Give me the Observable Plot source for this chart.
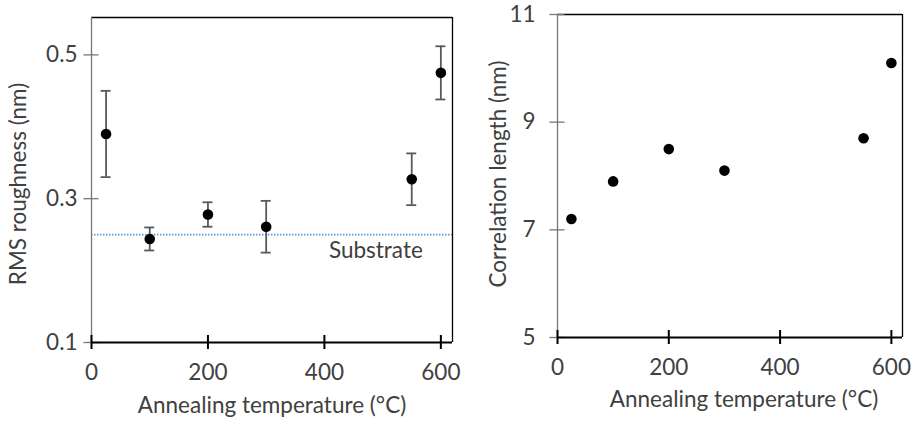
<!DOCTYPE html>
<html>
<head>
<meta charset="utf-8">
<script src="https://cdn.jsdelivr.net/npm/d3@7"></script>
<script src="https://cdn.jsdelivr.net/npm/@observablehq/plot@0.6"></script>
<style>
  body { margin: 0; background: #fff; }
  #wrap { position: relative; width: 911px; height: 422px; overflow: hidden; }
  #left, #right { position: absolute; top: 0; }
  #left { left: 0; }
  #right { left: 460px; }
</style>
</head>
<body>
<div id="wrap"><div id="left"></div><div id="right"></div></div>
<script>
// ---- data ----
const temperature = [25, 100, 200, 300, 550, 600];
const rmsRoughness = [0.39, 0.244, 0.278, 0.261, 0.327, 0.475];
const rmsError = [0.06, 0.016, 0.017, 0.036, 0.036, 0.037];
const correlationLength = [7.2, 7.9, 8.5, 8.1, 8.7, 10.1];
const substrateRms = [0.25];
const xTicks = [0, 200, 400, 600];
const yTicksLeft = [0.1, 0.3, 0.5];
const yTicksRight = [5, 7, 9, 11];
const xLabel = "Annealing temperature (°C)";
const yLabelLeft = "RMS roughness (nm)";
const yLabelRight = "Correlation length (nm)";
const substrateLabel = "Substrate";

const rmsData = temperature.map((t, i) => ({t, v: rmsRoughness[i], lo: rmsRoughness[i] - rmsError[i], hi: rmsRoughness[i] + rmsError[i]}));
const corrData = temperature.map((t, i) => ({t, v: correlationLength[i]}));

const textColor = "#404040";
const font = "Lato, 'Open Sans', sans-serif";
const fs = 22.5;

function frameMarks(xDom, yDom, ticksY) {
  return [
    Plot.ruleY([yDom[1]], {stroke: "#000", strokeWidth: 1.3}),
    Plot.ruleX([xDom[1]], {stroke: "#000", strokeWidth: 1.3}),
    Plot.ruleX([xDom[0]], {stroke: "#777", strokeWidth: 1.3}),
    Plot.ruleY(ticksY, {y: d => d, x1: xDom[0], x2: xDom[0], insetLeft: -7.5, insetRight: -7.5, stroke: "#777", strokeWidth: 1.3}),
    Plot.ruleY([yDom[0]], {stroke: "#000", strokeWidth: 2}),
    Plot.ruleX(xTicks, {x: d => d, y1: yDom[0], y2: yDom[0], insetTop: -7, insetBottom: -7, stroke: "#000", strokeWidth: 2})
  ];
}

const xDom = [0, 620];
const yDomL = [0.1, 0.552];
const yDomR = [5, 11];

const left = Plot.plot({
  width: 460, height: 422,
  marginLeft: 91, marginRight: 8, marginTop: 17, marginBottom: 80,
  style: {fontFamily: font, fontSize: fs + "px", color: textColor, background: "transparent", overflow: "visible"},
  x: {domain: xDom},
  y: {domain: yDomL},
  marks: [
    Plot.ruleY(substrateRms, {y: d => d, stroke: "#5B9BD5", strokeWidth: 1.8, strokeDasharray: "1.5,1.5"}),
    ...frameMarks(xDom, yDomL, yTicksLeft),
    Plot.axisX({ticks: xTicks, tickSize: 0, tickPadding: 22, label: null, tickFormat: d => d, fill: textColor, fontSize: fs}),
    Plot.axisY({ticks: yTicksLeft, tickSize: 0, tickPadding: 14, label: null, tickFormat: d => d, fill: textColor, fontSize: fs}),
    Plot.ruleX(rmsData, {x: "t", y1: "lo", y2: "hi", stroke: "#595959", strokeWidth: 1.8}),
    Plot.ruleY(rmsData, {y: "hi", x1: "t", x2: "t", insetLeft: -5, insetRight: -5, stroke: "#595959", strokeWidth: 1.8}),
    Plot.ruleY(rmsData, {y: "lo", x1: "t", x2: "t", insetLeft: -5, insetRight: -5, stroke: "#595959", strokeWidth: 1.8}),
    Plot.dot(rmsData, {x: "t", y: "v", r: 5.3, fill: "#000", stroke: "none"}),
    Plot.text([substrateLabel], {x: 569, y: substrateRms[0], text: d => d, textAnchor: "end", dy: 16, fill: textColor, fontSize: fs}),
    Plot.text([xLabel], {frameAnchor: "bottom", dy: 70, text: d => d, fill: textColor, fontSize: fs}),
    Plot.text([yLabelLeft], {frameAnchor: "left", textAnchor: "middle", dx: -73, dy: 4, rotate: -90, text: d => d, fill: textColor, fontSize: fs})
  ]
});
document.getElementById("left").appendChild(left);

const right = Plot.plot({
  width: 451, height: 422,
  marginLeft: 97, marginRight: 9, marginTop: 14, marginBottom: 85,
  style: {fontFamily: font, fontSize: fs + "px", color: textColor, background: "transparent", overflow: "visible"},
  x: {domain: xDom},
  y: {domain: yDomR},
  marks: [
    ...frameMarks(xDom, yDomR, yTicksRight),
    Plot.axisX({ticks: xTicks, tickSize: 0, tickPadding: 22, label: null, tickFormat: d => d, fill: textColor, fontSize: fs}),
    Plot.axisY({ticks: yTicksRight, tickSize: 0, tickPadding: 22, label: null, tickFormat: d => d, fill: textColor, fontSize: fs}),
    Plot.dot(corrData, {x: "t", y: "v", r: 5.3, fill: "#000", stroke: "none"}),
    Plot.text([xLabel], {frameAnchor: "bottom", dx: 14, dy: 69, text: d => d, fill: textColor, fontSize: fs}),
    Plot.text([yLabelRight], {frameAnchor: "left", textAnchor: "middle", dx: -59, dy: -2, rotate: -90, text: d => d, fill: textColor, fontSize: fs})
  ]
});
document.getElementById("right").appendChild(right);
</script>
</body>
</html>
